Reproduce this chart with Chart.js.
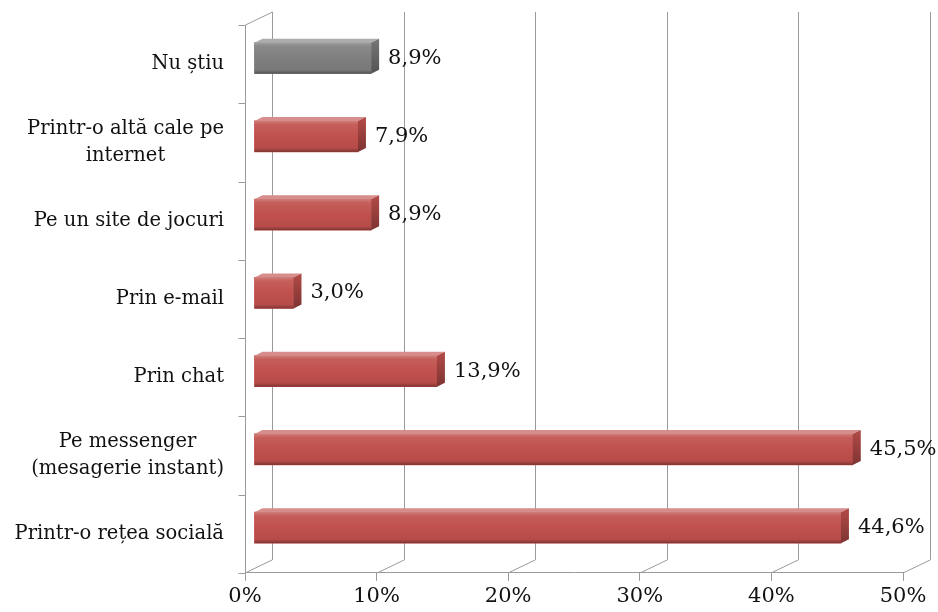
<!DOCTYPE html>
<html lang="ro">
<head>
<meta charset="UTF-8">
<title>Chart</title>
<script src="https://cdn.jsdelivr.net/npm/chart.js"></script>
<style>
  html, body { margin: 0; padding: 0; background: #fff; }
  #wrap { width: 938px; height: 612px; position: relative; }
</style>
</head>
<body>
<div id="wrap"><canvas id="chart"></canvas></div>
<script>
const categories = [
  'Nu știu',
  ['Printr-o altă cale pe', 'internet'],
  'Pe un site de jocuri',
  'Prin e-mail',
  'Prin chat',
  ['Pe messenger', '(mesagerie instant)'],
  'Printr-o rețea socială'
];
const values = [8.9, 7.9, 8.9, 3.0, 13.9, 45.5, 44.6];
const barColors = ['#7f7f7f', '#c0504d', '#c0504d', '#c0504d', '#c0504d', '#c0504d', '#c0504d'];
const xTicks = [0, 10, 20, 30, 40, 50];

const FONT = '"DejaVu Serif", "Liberation Serif", serif';
const GRID = '#9a9a9a';
const DEPTH = { x: 27, y: -13 };   // front plane -> back wall
const SHIFT = { x: 9, y: -6 };     // front plane -> bar plane
const CAP = { x: 8, y: -4 };       // bar depth

function shade(hex, f) {
  const n = parseInt(hex.slice(1), 16);
  let r = n >> 16, g = (n >> 8) & 255, b = n & 255;
  const t = f < 0 ? 0 : 255, p = Math.abs(f);
  r = Math.round((t - r) * p + r); g = Math.round((t - g) * p + g); b = Math.round((t - b) * p + b);
  return `rgb(${r},${g},${b})`;
}

const walls = {
  id: 'walls',
  beforeDatasetsDraw(chart) {
    const { ctx, chartArea: a, scales: { x, y } } = chart;
    ctx.save();
    ctx.strokeStyle = GRID;
    ctx.lineWidth = 1;
    ctx.beginPath();
    // back wall verticals and floor diagonals
    xTicks.forEach(v => {
      const px = Math.round(x.getPixelForValue(v)) + 0.5;
      ctx.moveTo(px, a.bottom);
      ctx.lineTo(px + DEPTH.x, a.bottom + DEPTH.y);
      ctx.lineTo(px + DEPTH.x, a.top + DEPTH.y);
    });
    // left wall top edge and front axis
    const lx = Math.round(a.left) + 0.5;
    ctx.moveTo(lx + DEPTH.x, a.top + DEPTH.y);
    ctx.lineTo(lx, a.top);
    ctx.lineTo(lx, a.bottom);
    // category ticks on the left axis
    const band = (a.bottom - a.top) / categories.length;
    for (let i = 0; i <= categories.length; i++) {
      const py = Math.round(a.top + i * band) + 0.5;
      ctx.moveTo(lx - 7, py);
      ctx.lineTo(lx, py);
    }
    ctx.stroke();
    ctx.restore();

    ctx.save();
    ctx.translate(SHIFT.x, SHIFT.y);
  },
  afterDatasetsDraw(chart) {
    const { ctx } = chart;
    const meta = chart.getDatasetMeta(0);
    meta.data.forEach((bar, i) => {
      const { x, y, base, height } = bar.getProps(['x', 'y', 'base', 'height'], true);
      const top = y - height / 2, bottom = y + height / 2;
      const c = barColors[i];
      // front face with vertical shading
      const g = ctx.createLinearGradient(0, top, 0, bottom);
      g.addColorStop(0, shade(c, 0.25));
      g.addColorStop(0.12, shade(c, 0.08));
      g.addColorStop(0.5, c);
      g.addColorStop(0.88, shade(c, -0.05));
      g.addColorStop(1, shade(c, -0.35));
      ctx.fillStyle = g;
      ctx.fillRect(base, top, x - base, height);
      // top face
      ctx.beginPath();
      ctx.moveTo(base, top);
      ctx.lineTo(base + CAP.x, top + CAP.y);
      ctx.lineTo(x + CAP.x, top + CAP.y);
      ctx.lineTo(x, top);
      ctx.closePath();
      ctx.fillStyle = shade(c, 0.35);
      ctx.fill();
      // right cap
      const gc = ctx.createLinearGradient(0, top, 0, bottom);
      gc.addColorStop(0, shade(c, -0.1));
      gc.addColorStop(1, shade(c, -0.35));
      ctx.beginPath();
      ctx.moveTo(x, top);
      ctx.lineTo(x + CAP.x, top + CAP.y);
      ctx.lineTo(x + CAP.x, bottom + CAP.y);
      ctx.lineTo(x, bottom);
      ctx.closePath();
      ctx.fillStyle = gc;
      ctx.fill();
      // value label
      ctx.fillStyle = '#111';
      ctx.font = '21px ' + FONT;
      ctx.textAlign = 'left';
      ctx.textBaseline = 'middle';
      ctx.fillText(values[i].toFixed(1).replace('.', ',') + '%', x + CAP.x + 9, y);
    });
    ctx.restore();
  },
  afterDraw(chart) {
    const { ctx, chartArea: a, scales: { y } } = chart;
    ctx.save();
    ctx.fillStyle = '#111';
    ctx.font = '19.5px ' + FONT;
    ctx.textAlign = 'center';
    ctx.textBaseline = 'middle';
    const right = a.left - 21, lh = 27;
    categories.forEach((lab, i) => {
      const lines = Array.isArray(lab) ? lab : [lab];
      const w = Math.max(...lines.map(l => ctx.measureText(l).width));
      const cy = y.getPixelForValue(i);
      lines.forEach((l, k) => {
        ctx.fillText(l, right - w / 2, cy + (k - (lines.length - 1) / 2) * lh);
      });
    });
    ctx.restore();
  }
};

new Chart(document.getElementById('chart'), {
  type: 'bar',
  data: {
    labels: categories,
    datasets: [{
      data: values,
      backgroundColor: barColors,
      borderWidth: 0,
      barThickness: 31
    }]
  },
  options: {
    indexAxis: 'y',
    responsive: true,
    maintainAspectRatio: false,
    animation: false,
    layout: { padding: { left: 245, top: 25, right: 35, bottom: 0 } },
    scales: {
      x: {
        min: 0, max: 50,
        afterBuildTicks: s => { s.ticks = xTicks.map(v => ({ value: v })); },
        ticks: {
          callback: v => v + '%',
          color: '#111',
          font: { family: FONT, size: 21 },
          padding: 3,
          maxRotation: 0
        },
        grid: { drawOnChartArea: false, drawTicks: true, tickLength: 8, color: GRID },
        border: { display: true, color: GRID }
      },
      y: { display: false }
    },
    plugins: { legend: { display: false }, tooltip: { enabled: false } }
  },
  plugins: [walls]
});
</script>
</body>
</html>
